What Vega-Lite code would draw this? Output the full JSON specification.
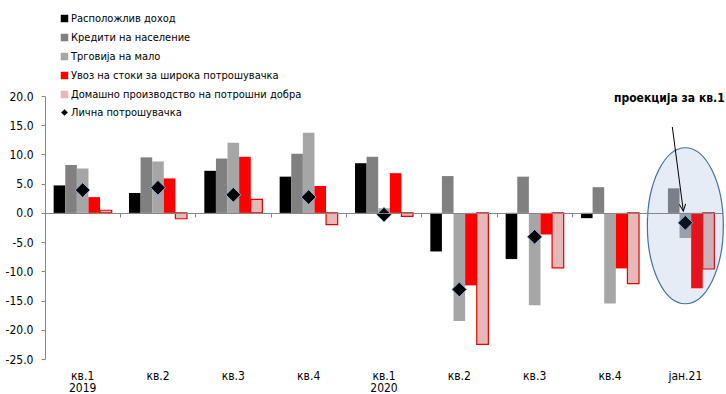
{
  "$schema": "https://vega.github.io/schema/vega-lite/v6.json",
  "width": 678,
  "height": 263,
  "autosize": {"type": "none"},
  "padding": {"left": 45, "top": 96, "right": 3, "bottom": 35},
  "background": "white",
  "config": {
    "view": {"stroke": null},
    "font": "DejaVu Sans Condensed, DejaVu Sans",
    "legend": {"labelFont": "DejaVu Sans Condensed, DejaVu Sans"},
    "axis": {"labelFont": "DejaVu Sans Condensed, DejaVu Sans"}
  },
  "datasets": {
    "bars": [
      {"cat": "кв.1 2019", "Расположлив доход": 4.7, "Кредити на население": 8.2, "Трговија на мало": 7.6, "Увоз на  стоки за широка потрошувачка": 2.7, "Домашно производство на потрошни добра": 0.45},
      {"cat": "кв.2 2019", "Расположлив доход": 3.4, "Кредити на население": 9.5, "Трговија на мало": 8.8, "Увоз на  стоки за широка потрошувачка": 5.9, "Домашно производство на потрошни добра": -1.0},
      {"cat": "кв.3 2019", "Расположлив доход": 7.2, "Кредити на население": 9.3, "Трговија на мало": 12.0, "Увоз на  стоки за широка потрошувачка": 9.6, "Домашно производство на потрошни добра": 2.3},
      {"cat": "кв.4 2019", "Расположлив доход": 6.2, "Кредити на население": 10.1, "Трговија на мало": 13.7, "Увоз на  стоки за широка потрошувачка": 4.6, "Домашно производство на потрошни добра": -2.0},
      {"cat": "кв.1 2020", "Расположлив доход": 8.5, "Кредити на население": 9.6, "Трговија на мало": 0.8, "Увоз на  стоки за широка потрошувачка": 6.8, "Домашно производство на потрошни добра": -0.6},
      {"cat": "кв.2 2020", "Расположлив доход": -6.6, "Кредити на население": 6.3, "Трговија на мало": -18.5, "Увоз на  стоки за широка потрошувачка": -12.4, "Домашно производство на потрошни добра": -22.5},
      {"cat": "кв.3 2020", "Расположлив доход": -7.9, "Кредити на население": 6.2, "Трговија на мало": -15.8, "Увоз на  стоки за широка потрошувачка": -3.7, "Домашно производство на потрошни добра": -9.4},
      {"cat": "кв.4 2020", "Расположлив доход": -0.9, "Кредити на население": 4.4, "Трговија на мало": -15.5, "Увоз на  стоки за широка потрошувачка": -9.5, "Домашно производство на потрошни добра": -12.1},
      {"cat": "јан.21", "Кредити на население": 4.2, "Трговија на мало": -4.3, "Увоз на  стоки за широка потрошувачка": -12.9, "Домашно производство на потрошни добра": -9.6}
    ],
    "cons": [
      {"cat": "кв.1 2019", "v": 3.9},
      {"cat": "кв.2 2019", "v": 4.3},
      {"cat": "кв.3 2019", "v": 3.1},
      {"cat": "кв.4 2019", "v": 2.7},
      {"cat": "кв.1 2020", "v": -0.3},
      {"cat": "кв.2 2020", "v": -13.1},
      {"cat": "кв.3 2020", "v": -4.1},
      {"cat": "јан.21", "v": -1.7}
    ]
  },
  "layer": [
    {
      "data": {"name": "bars"},
      "transform": [
        {"fold": ["Расположлив доход", "Кредити на население", "Трговија на мало", "Увоз на  стоки за широка потрошувачка", "Домашно производство на потрошни добра"], "as": ["series", "value"]}
      ],
      "mark": {"type": "bar", "strokeWidth": 1.2},
      "encoding": {
        "x": {
          "field": "cat", "type": "nominal", "sort": null,
          "scale": {"domain": ["кв.1 2019", "кв.2 2019", "кв.3 2019", "кв.4 2019", "кв.1 2020", "кв.2 2020", "кв.3 2020", "кв.4 2020", "јан.21"], "paddingInner": 0, "paddingOuter": 0},
          "axis": {
            "title": null, "orient": "bottom", "offset": -146, "labelPadding": 153, "tickSize": 4, "bandPosition": 0,
            "domainColor": "#868686", "tickColor": "#868686", "labelFontSize": 12, "labelColor": "#000", "labelAngle": 0,
            "labelBaseline": "top", "labelLineHeight": 12.5, "zindex": 1,
            "labelExpr": "datum.value == 'кв.1 2019' || datum.value == 'кв.1 2020' ? split(datum.value, ' ') : split(datum.value, ' ')[0]"
          }
        },
        "xOffset": {
          "field": "series", "type": "nominal",
          "scale": {"domain": ["Расположлив доход", "Кредити на население", "Трговија на мало", "Увоз на  стоки за широка потрошувачка", "Домашно производство на потрошни добра"], "paddingInner": 0, "paddingOuter": 0.745}
        },
        "y": {
          "field": "value", "type": "quantitative",
          "scale": {"domain": [-25, 20], "nice": false, "zero": false},
          "axis": {
            "title": null, "tickCount": 10, "grid": false, "labelOverlap": false,
            "labelExpr": "replace(format(datum.value, '.1f'), '\u2212', '-')",
            "labelFontSize": 12, "labelColor": "#000", "domainColor": "#868686", "tickColor": "#868686", "tickSize": 4, "labelPadding": 8
          }
        },
        "color": {
          "field": "series", "type": "nominal",
          "scale": {"domain": ["Расположлив доход", "Кредити на население", "Трговија на мало", "Увоз на  стоки за широка потрошувачка", "Домашно производство на потрошни добра"], "range": ["#000000", "#808080", "#a6a6a6", "#ff0000", "#e6b9b8"]},
          "legend": {
            "orient": "none", "legendX": 14, "legendY": -83, "title": null, "symbolType": "square", "symbolSize": 56,
            "labelFontSize": 11, "labelColor": "#000", "rowPadding": 4, "padding": 0, "labelOffset": 1, "labelLimit": 0,
            "encode": {"symbols": {"update": {"stroke": [{"test": "datum.value === 'Домашно производство на потрошни добра'", "value": "#e00000"}, {"value": "transparent"}], "strokeWidth": {"value": 1.2}}}}
          }
        },
        "stroke": {"condition": {"test": "datum.series === 'Домашно производство на потрошни добра'", "value": "#e00000"}, "value": "transparent"}
      }
    },
    {
      "data": {"name": "cons"},
      "mark": {"type": "point", "filled": true, "fill": "#000000", "stroke": "#8eb4e3", "strokeWidth": 1, "size": 220, "opacity": 1},
      "encoding": {
        "x": {"field": "cat", "type": "nominal"},
        "y": {"field": "v", "type": "quantitative"},
        "shape": {
          "datum": "Лична потрошувачка", "scale": {"range": ["diamond"]},
          "legend": {"orient": "none", "legendX": 14, "legendY": 11, "title": null, "symbolFillColor": "#000", "symbolStrokeColor": "#8eb4e3", "symbolStrokeWidth": 1, "symbolSize": 45, "labelFontSize": 11, "labelColor": "#000", "padding": 0, "labelOffset": 1, "labelLimit": 0}
        }
      }
    },
    {
      "data": {"values": [{"cat": "јан.21", "v": -2.2}]},
      "mark": {"type": "point", "shape": "M -0.487,0 A 0.487,1 0 1,0 0.487,0 A 0.487,1 0 1,0 -0.487,0 Z", "size": 24336, "filled": true, "fill": "#4f81bd", "fillOpacity": 0.15, "stroke": "#41719c", "strokeWidth": 1.2, "strokeOpacity": 1, "opacity": 1},
      "encoding": {
        "x": {"field": "cat", "type": "nominal"},
        "y": {"field": "v", "type": "quantitative"}
      }
    },
    {
      "data": {"values": [{"cat": "јан.21", "y1": 14.7, "y2": 0.3}]},
      "mark": {"type": "rule", "xOffset": -13, "x2Offset": -2, "color": "#000000", "strokeWidth": 1},
      "encoding": {
        "x": {"field": "cat", "type": "nominal", "bandPosition": 0.5},
        "x2": {"field": "cat", "bandPosition": 0.5},
        "y": {"field": "y1", "type": "quantitative"},
        "y2": {"field": "y2"}
      }
    },
    {
      "data": {"values": [{"cat": "јан.21", "v": 0.3}]},
      "mark": {"type": "point", "shape": "M -0.45,-1 L 0,0 L 0.45,-1", "size": 196, "filled": false, "stroke": "#000000", "strokeWidth": 1, "opacity": 1, "angle": -7, "xOffset": -2},
      "encoding": {
        "x": {"field": "cat", "type": "nominal"},
        "y": {"field": "v", "type": "quantitative"}
      }
    },
    {
      "data": {"values": [{"cat": "јан.21", "v": 19.7, "label": "проекција за кв.1"}]},
      "mark": {"type": "text", "fontWeight": "bold", "fontSize": 12, "dx": -16, "align": "center", "baseline": "middle", "color": "#000000"},
      "encoding": {
        "x": {"field": "cat", "type": "nominal"},
        "y": {"field": "v", "type": "quantitative"},
        "text": {"field": "label"}
      }
    }
  ]
}
